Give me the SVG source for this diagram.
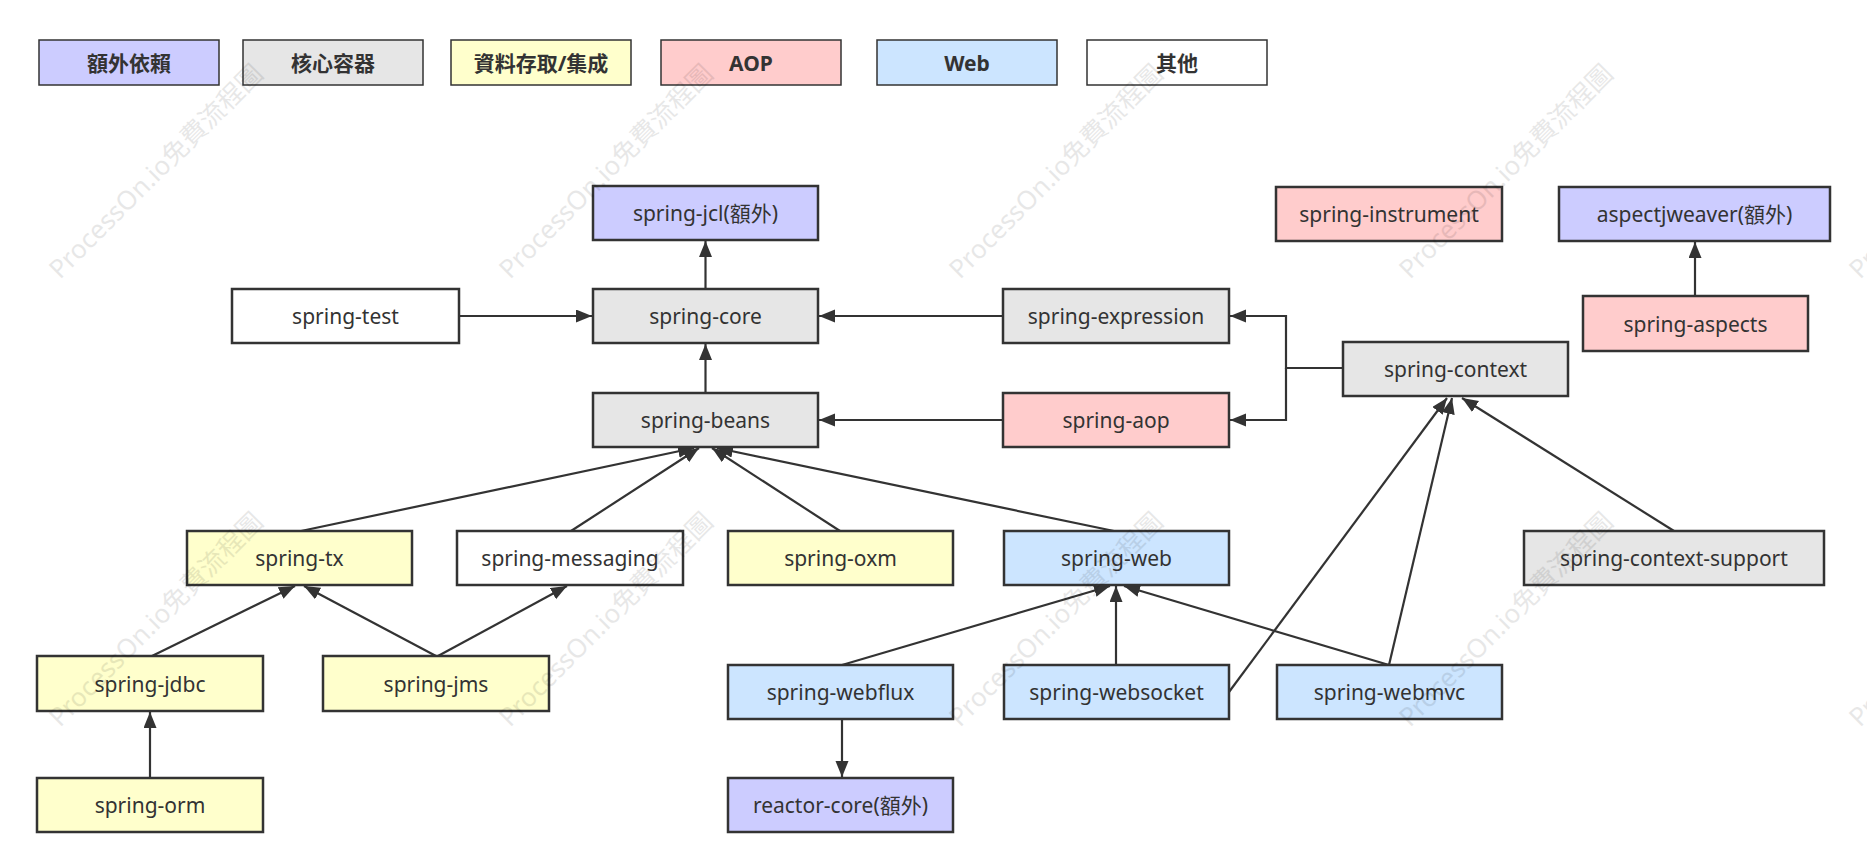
<svg xmlns="http://www.w3.org/2000/svg" width="1867" height="868" viewBox="0 0 1867 868">
<style>
.box{stroke:#333;stroke-width:2.5}
.leg{stroke:#333;stroke-width:1.5}
.t{font-family:"Noto Sans","Noto Sans CJK TC",sans-serif;font-size:21px;fill:#333;text-anchor:middle;dominant-baseline:central}
.lt{font-family:"Noto Sans","Noto Sans CJK TC",sans-serif;font-size:21px;font-weight:bold;fill:#333;text-anchor:middle;dominant-baseline:central}
.c{fill:none;stroke:#333;stroke-width:2.2;marker-end:url(#ah)}
.wm{font-family:"Noto Sans","Noto Sans CJK TC",sans-serif;font-size:26px;fill:#000;opacity:0.09}
.p{fill:#ccccff}.g{fill:#e6e6e6}.y{fill:#ffffcc}.k{fill:#ffcccc}.b{fill:#cce5ff}.w{fill:#ffffff}
</style>
<defs>
<marker id="ah" markerUnits="userSpaceOnUse" markerWidth="17" markerHeight="14" refX="16" refY="6.5" orient="auto">
<path d="M0,0 L16,6.5 L0,13 Z" fill="#333"/>
</marker>
</defs>
<rect width="1867" height="868" fill="#fff"/>
<g id="legend">
<g id="leg-extra"><rect class="leg p" x="39" y="40" width="180" height="45"/><text class="lt" x="129" y="62.5">額外依賴</text></g>
<g id="leg-core"><rect class="leg g" x="243" y="40" width="180" height="45"/><text class="lt" x="333" y="62.5">核心容器</text></g>
<g id="leg-data"><rect class="leg y" x="451" y="40" width="180" height="45"/><text class="lt" x="541" y="62.5">資料存取/集成</text></g>
<g id="leg-aop"><rect class="leg k" x="661" y="40" width="180" height="45"/><text class="lt" x="751" y="62.5">AOP</text></g>
<g id="leg-web"><rect class="leg b" x="877" y="40" width="180" height="45"/><text class="lt" x="967" y="62.5">Web</text></g>
<g id="leg-other"><rect class="leg w" x="1087" y="40" width="180" height="45"/><text class="lt" x="1177" y="62.5">其他</text></g>
</g>
<g id="connectors">
<path class="c" d="M705.5,289 L705.5,241"/>
<path class="c" d="M705.5,393 L705.5,344"/>
<path class="c" d="M459,316 L592,316"/>
<path class="c" d="M1003,316 L819,316"/>
<path class="c" d="M1003,420 L819,420"/>
<path class="c" d="M1343,368 L1286,368 L1286,316 L1230,316"/>
<path class="c" d="M1286,368 L1286,420 L1230,420"/>
<path class="c" d="M1695,296 L1695,242"/>
<path class="c" d="M301,531 L694,448"/>
<path class="c" d="M571,531 L699,448"/>
<path class="c" d="M840,531 L712,448"/>
<path class="c" d="M1114,531 L717,448"/>
<path class="c" d="M152,656 L295,586"/>
<path class="c" d="M436,656 L304,586"/>
<path class="c" d="M438,656 L567,586"/>
<path class="c" d="M150,778 L150,712"/>
<path class="c" d="M842,665 L1110,586"/>
<path class="c" d="M1116,665 L1116,586"/>
<path class="c" d="M1389,665 L1124,586"/>
<path class="c" d="M842,719 L842,777"/>
<path class="c" d="M1229,692 L1447,398"/>
<path class="c" d="M1389,665 L1452,398"/>
<path class="c" d="M1674,531 L1462,398"/>
</g>
<g id="n-jcl"><rect class="box p" x="593" y="186" width="225" height="54"/><text class="t" x="705.5" y="213">spring-jcl(額外)</text></g>
<g id="n-core"><rect class="box g" x="593" y="289" width="225" height="54"/><text class="t" x="705.5" y="316">spring-core</text></g>
<g id="n-beans"><rect class="box g" x="593" y="393" width="225" height="54"/><text class="t" x="705.5" y="420">spring-beans</text></g>
<g id="n-test"><rect class="box w" x="232" y="289" width="227" height="54"/><text class="t" x="345.5" y="316">spring-test</text></g>
<g id="n-expression"><rect class="box g" x="1003" y="289" width="226" height="54"/><text class="t" x="1116" y="316">spring-expression</text></g>
<g id="n-aop"><rect class="box k" x="1003" y="393" width="226" height="54"/><text class="t" x="1116" y="420">spring-aop</text></g>
<g id="n-context"><rect class="box g" x="1343" y="342" width="225" height="54"/><text class="t" x="1455.5" y="369">spring-context</text></g>
<g id="n-instrument"><rect class="box k" x="1276" y="187" width="226" height="54"/><text class="t" x="1389" y="214">spring-instrument</text></g>
<g id="n-aspectjweaver"><rect class="box p" x="1559" y="187" width="271" height="54"/><text class="t" x="1694.5" y="214">aspectjweaver(額外)</text></g>
<g id="n-aspects"><rect class="box k" x="1583" y="296" width="225" height="55"/><text class="t" x="1695.5" y="323.5">spring-aspects</text></g>
<g id="n-tx"><rect class="box y" x="187" y="531" width="225" height="54"/><text class="t" x="299.5" y="558">spring-tx</text></g>
<g id="n-messaging"><rect class="box w" x="457" y="531" width="226" height="54"/><text class="t" x="570" y="558">spring-messaging</text></g>
<g id="n-oxm"><rect class="box y" x="728" y="531" width="225" height="54"/><text class="t" x="840.5" y="558">spring-oxm</text></g>
<g id="n-web"><rect class="box b" x="1004" y="531" width="225" height="54"/><text class="t" x="1116.5" y="558">spring-web</text></g>
<g id="n-context-support"><rect class="box g" x="1524" y="531" width="300" height="54"/><text class="t" x="1674" y="558">spring-context-support</text></g>
<g id="n-jdbc"><rect class="box y" x="37" y="656" width="226" height="55"/><text class="t" x="150" y="683.5">spring-jdbc</text></g>
<g id="n-jms"><rect class="box y" x="323" y="656" width="226" height="55"/><text class="t" x="436" y="683.5">spring-jms</text></g>
<g id="n-webflux"><rect class="box b" x="728" y="665" width="225" height="54"/><text class="t" x="840.5" y="692">spring-webflux</text></g>
<g id="n-websocket"><rect class="box b" x="1004" y="665" width="225" height="54"/><text class="t" x="1116.5" y="692">spring-websocket</text></g>
<g id="n-webmvc"><rect class="box b" x="1277" y="665" width="225" height="54"/><text class="t" x="1389.5" y="692">spring-webmvc</text></g>
<g id="n-orm"><rect class="box y" x="37" y="778" width="226" height="54"/><text class="t" x="150" y="805">spring-orm</text></g>
<g id="n-reactor"><rect class="box p" x="728" y="778" width="225" height="54"/><text class="t" x="840.5" y="805">reactor-core(額外)</text></g>
<g id="watermark">
<text class="wm" x="60" y="280" transform="rotate(-45 60 280)">ProcessOn.io免費流程圖</text>
<text class="wm" x="510" y="280" transform="rotate(-45 510 280)">ProcessOn.io免費流程圖</text>
<text class="wm" x="960" y="280" transform="rotate(-45 960 280)">ProcessOn.io免費流程圖</text>
<text class="wm" x="1410" y="280" transform="rotate(-45 1410 280)">ProcessOn.io免費流程圖</text>
<text class="wm" x="1860" y="280" transform="rotate(-45 1860 280)">ProcessOn.io免費流程圖</text>
<text class="wm" x="60" y="728" transform="rotate(-45 60 728)">ProcessOn.io免費流程圖</text>
<text class="wm" x="510" y="728" transform="rotate(-45 510 728)">ProcessOn.io免費流程圖</text>
<text class="wm" x="960" y="728" transform="rotate(-45 960 728)">ProcessOn.io免費流程圖</text>
<text class="wm" x="1410" y="728" transform="rotate(-45 1410 728)">ProcessOn.io免費流程圖</text>
<text class="wm" x="1860" y="728" transform="rotate(-45 1860 728)">ProcessOn.io免費流程圖</text>
</g>
</svg>
